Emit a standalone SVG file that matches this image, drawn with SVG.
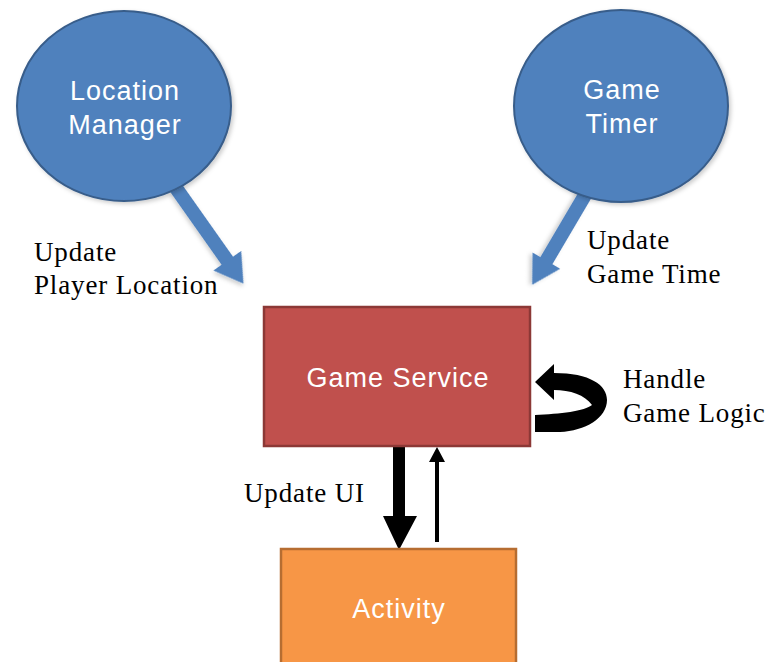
<svg xmlns="http://www.w3.org/2000/svg" width="774" height="662" viewBox="0 0 774 662">
<defs>
<filter id="sh" x="-20%" y="-20%" width="140%" height="140%">
<feDropShadow dx="2" dy="2" stdDeviation="2" flood-color="#000" flood-opacity="0.2"/>
</filter>
</defs>
<style>
.blue{fill:#4F81BD;stroke:#385D8A;stroke-width:2}
.barrow{fill:#4F81BD}
.red{fill:#C0504D;stroke:#8C3836;stroke-width:2.5}
.orange{fill:#F79646;stroke:#B66D31;stroke-width:2.5}
.ntext{font-family:"Liberation Sans",Arial,sans-serif;font-size:27px;fill:#fff;text-anchor:middle;letter-spacing:1px}
.label{font-family:"Liberation Serif","Times New Roman",serif;font-size:27px;fill:#000;letter-spacing:0.85px}
.black{fill:#000}
</style>
<rect width="774" height="662" fill="#fff"/>
<g id="connectors">
<polygon class="barrow" filter="url(#sh)" transform="translate(176,188) rotate(54.8)" points="0,-7 89,-7 89,-17 117,0 89,17 89,7 0,7"/>
<polygon class="barrow" filter="url(#sh)" transform="translate(588,190) rotate(120.5)" points="0,-7 82,-7 82,-16 110,0 82,16 82,7 0,7"/>
<polygon class="black" points="393,447 405,447 405,516 417,516 399,550 383,516 393,516"/>
<polygon class="black" points="435,542 439,542 439,462 445,462 437,447 429,462 435,462"/>
<path class="black" d="M554,373 C590,373 607,385 607,400 C607,418 585,431 560,432 L535,432 L535,415 C560,414 585,411 592,405 C585,395 570,390 554,390 L554,400 L535,382 L554,364 Z"/>
</g>
<g id="location-manager">
<ellipse class="blue" filter="url(#sh)" cx="124" cy="106" rx="107" ry="95"/>
<text class="ntext" x="125" y="100">Location</text>
<text class="ntext" x="125" y="134">Manager</text>
</g>
<g id="game-timer">
<ellipse class="blue" filter="url(#sh)" cx="621" cy="106" rx="107" ry="96"/>
<text class="ntext" x="622" y="99">Game</text>
<text class="ntext" x="622" y="133">Timer</text>
</g>
<g id="game-service">
<rect class="red" x="264" y="307" width="266" height="139"/>
<text class="ntext" x="398" y="387">Game Service</text>
</g>
<g id="activity">
<rect class="orange" x="281" y="549" width="235" height="120"/>
<text class="ntext" x="399" y="618">Activity</text>
</g>
<g id="labels">
<text class="label" x="34" y="261">Update</text>
<text class="label" x="34" y="294">Player Location</text>
<text class="label" x="587" y="249">Update</text>
<text class="label" x="587" y="283">Game Time</text>
<text class="label" x="623" y="388">Handle</text>
<text class="label" x="623" y="422">Game Logic</text>
<text class="label" x="244" y="502">Update UI</text>
</g>
</svg>
